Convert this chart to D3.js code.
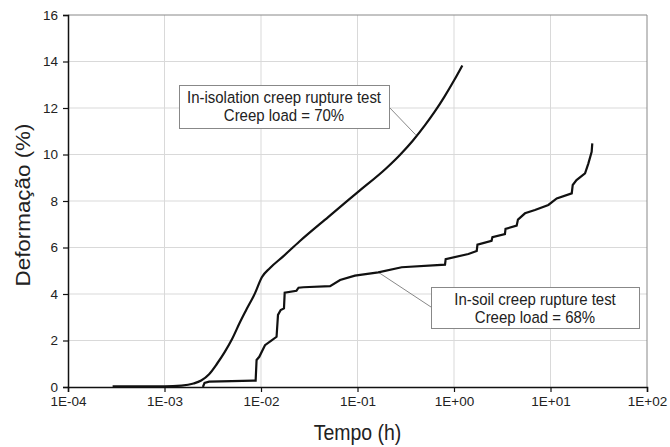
<!DOCTYPE html>
<html>
<head>
<meta charset="utf-8">
<script src="https://cdn.jsdelivr.net/npm/d3@7"></script>
<style>
  body { margin: 0; background: #fff; }
  svg text { font-family: "Liberation Sans", Arial, sans-serif; fill: #222; }
</style>
</head>
<body>
<div id="chart"></div>
<script>
// In-isolation test (creep load 70%): time (h) and strain (%)
const isolationTime = [2.9e-4, 7e-4, 1e-3, 1.5e-3, 2e-3, 2.4e-3, 2.9e-3, 3.5e-3, 4.2e-3, 5e-3, 6e-3, 7e-3, 8.7e-3, 1.02e-2, 1.24e-2, 1.7e-2, 2.5e-2, 5e-2, 1e-1, 2e-1, 2.75e-1, 3.72e-1, 5.01e-1, 6.31e-1, 7.94e-1, 1.0, 1.22];
const isolationStrain = [0.03, 0.03, 0.03, 0.06, 0.15, 0.28, 0.55, 1.0, 1.5, 2.05, 2.75, 3.3, 4.05, 4.72, 5.12, 5.62, 6.26, 7.32, 8.37, 9.42, 9.98, 10.58, 11.26, 11.84, 12.48, 13.18, 13.83];

// In-soil test (creep load 68%)
const soilTime = [2.5e-3, 2.6e-3, 2.9e-3, 5e-3, 8.3e-3, 8.8e-3, 9.0e-3, 9.6e-3, 1.1e-2, 1.3e-2, 1.45e-2, 1.5e-2, 1.6e-2, 1.73e-2, 1.76e-2, 2.33e-2, 2.45e-2, 2.75e-2, 5.2e-2, 6.6e-2, 9.4e-2, 1.64e-1, 2.87e-1, 8.07e-1, 8.2e-1, 1.41, 1.72, 1.75, 2.45, 2.5, 3.37, 3.42, 4.46, 4.6, 5.44, 6.9, 9.5, 1.16e1, 1.66e1, 1.7e1, 1.86e1, 2.28e1, 2.47e1, 2.67e1, 2.71e1];
const soilStrain = [0.0, 0.18, 0.23, 0.25, 0.27, 0.27, 1.16, 1.3, 1.8, 2.02, 2.16, 3.1, 3.31, 3.38, 4.06, 4.14, 4.27, 4.29, 4.34, 4.6, 4.79, 4.93, 5.15, 5.26, 5.5, 5.72, 5.85, 6.12, 6.29, 6.44, 6.58, 6.8, 6.94, 7.2, 7.47, 7.61, 7.83, 8.11, 8.33, 8.69, 8.9, 9.19, 9.62, 10.12, 10.48];

const xTicks = [1e-4, 1e-3, 1e-2, 1e-1, 1, 10, 100];
const xTickLabels = ["1E-04", "1E-03", "1E-02", "1E-01", "1E+00", "1E+01", "1E+02"];
const yTicks = [0, 2, 4, 6, 8, 10, 12, 14, 16];

const W = 670, H = 447;
const m = { left: 68, right: 23, top: 15, bottom: 60 };
const font = '"Liberation Sans", Arial, sans-serif';

const svg = d3.select("#chart").append("svg")
  .attr("width", W).attr("height", H);

const x = d3.scaleLog().domain([1e-4, 100]).range([m.left, W - m.right]);
const y = d3.scaleLinear().domain([0, 16]).range([H - m.bottom, m.top]);

// grid
svg.append("g").selectAll("line").data(xTicks.slice(1, -1)).join("line")
  .attr("x1", d => x(d)).attr("x2", d => x(d))
  .attr("y1", y(0)).attr("y2", y(16))
  .attr("stroke", "#d9d9d9").attr("stroke-width", 1);
svg.append("g").selectAll("line").data(yTicks.slice(1, -1)).join("line")
  .attr("x1", x(1e-4)).attr("x2", x(100))
  .attr("y1", d => y(d)).attr("y2", d => y(d))
  .attr("stroke", "#d9d9d9").attr("stroke-width", 1);

// frame (top and right)
svg.append("path")
  .attr("d", `M${x(1e-4)},${y(16)}H${x(100)}V${y(0)}`)
  .attr("fill", "none").attr("stroke", "#888").attr("stroke-width", 1);

// axes
const xAxis = svg.append("g")
  .attr("transform", `translate(0,${y(0)})`)
  .call(d3.axisBottom(x).tickValues(xTicks).tickFormat((d, i) => xTickLabels[i]).tickSize(5).tickPadding(4));
const yAxis = svg.append("g")
  .attr("transform", `translate(${x(1e-4)},0)`)
  .call(d3.axisLeft(y).tickValues(yTicks).tickSize(5).tickPadding(5));
[xAxis, yAxis].forEach(g => {
  g.select(".domain").attr("stroke", "#111").attr("stroke-width", 1.5);
  g.selectAll(".tick line").attr("stroke", "#111").attr("stroke-width", 1.2);
  g.selectAll(".tick text").attr("font-size", 13.5).attr("fill", "#333")
    .attr("font-family", font);
});

// leader lines
svg.append("line")
  .attr("x1", 389).attr("y1", 107).attr("x2", x(0.4)).attr("y2", y(10.85))
  .attr("stroke", "#888").attr("stroke-width", 1);
svg.append("line")
  .attr("x1", 431).attr("y1", 307).attr("x2", x(0.165)).attr("y2", y(4.93))
  .attr("stroke", "#888").attr("stroke-width", 1);

// curves
svg.append("path")
  .datum(isolationTime.map((t, i) => [t, isolationStrain[i]]))
  .attr("d", d3.line().x(d => x(d[0])).y(d => y(d[1])).curve(d3.curveMonotoneX))
  .attr("fill", "none").attr("stroke", "#111").attr("stroke-width", 2.2);
svg.append("path")
  .datum(soilTime.map((t, i) => [t, soilStrain[i]]))
  .attr("d", d3.line().x(d => x(d[0])).y(d => y(d[1])))
  .attr("fill", "none").attr("stroke", "#111").attr("stroke-width", 2.2);

// text slightly taller than wide, like the source
function label(px, py, str, size, anchor) {
  return svg.append("text")
    .attr("transform", `translate(${px},${py}) scale(1,1.1)`)
    .attr("text-anchor", anchor || "middle").attr("font-size", size).text(str);
}

// annotation boxes
function box(x0, y0, w, h, lines, size, gap) {
  svg.append("rect").attr("x", x0 + 0.5).attr("y", y0 + 0.5).attr("width", w).attr("height", h)
    .attr("fill", "#fff").attr("stroke", "#888").attr("stroke-width", 1);
  lines.forEach((t, i) => label(x0 + w / 2, y0 + 18 + i * gap, t, size));
}
box(179, 85, 210, 43, ["In-isolation creep rupture test", "Creep load = 70%"], 15, 18);
box(431, 287, 208, 41, ["In-soil creep rupture test", "Creep load = 68%"], 15, 18);

// axis titles
label((m.left + W - m.right) / 2, 440, "Tempo (h)", 19.5);
svg.append("text")
  .attr("transform", `translate(30,${(m.top + H - m.bottom) / 2 + 4}) rotate(-90) scale(1.12,1)`)
  .attr("text-anchor", "middle").attr("font-size", 20).text("Deformação (%)");
</script>
</body>
</html>
